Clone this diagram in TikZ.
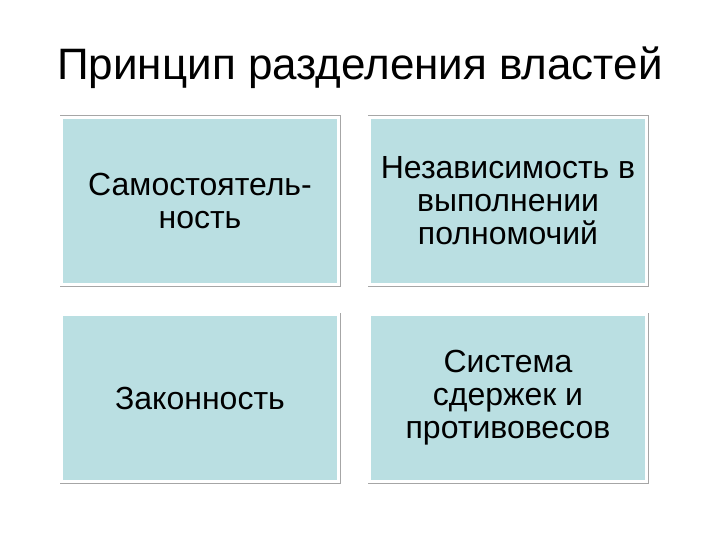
\documentclass[tikz,border=0pt]{standalone}
\usepackage{fontspec}
\setmainfont{Liberation Sans}
\usepackage{tikz}
\usetikzlibrary{positioning}

\definecolor{cellfill}{HTML}{BADFE2}

\begin{document}
\begin{tikzpicture}[x=1pt,y=-1pt,
    cell/.style={fill=cellfill,draw=white,line width=2.5pt,
      preaction={draw=gray!70,line width=4pt},
      minimum width=277pt,minimum height=167pt,
      align=center,font=\fontsize{32}{33}\selectfont,inner sep=0pt}]
    \useasboundingbox (0,0) rectangle (720,540);
    \node (title) at (360,68) {\fontsize{44}{50}\selectfont Принцип разделения властей};
    %
    \node[cell] (self)  at (200,201) {Самостоятель-\\ность};
    \node[cell] (indep) at (508,201) {Независимость в\\выполнении\\полномочий};
    \node[cell] (law)   at (200,398) {Законность};
    \node[cell] (check) at (508,398) {Система\\сдержек и\\противовесов};
  \end{tikzpicture}
\end{document}
